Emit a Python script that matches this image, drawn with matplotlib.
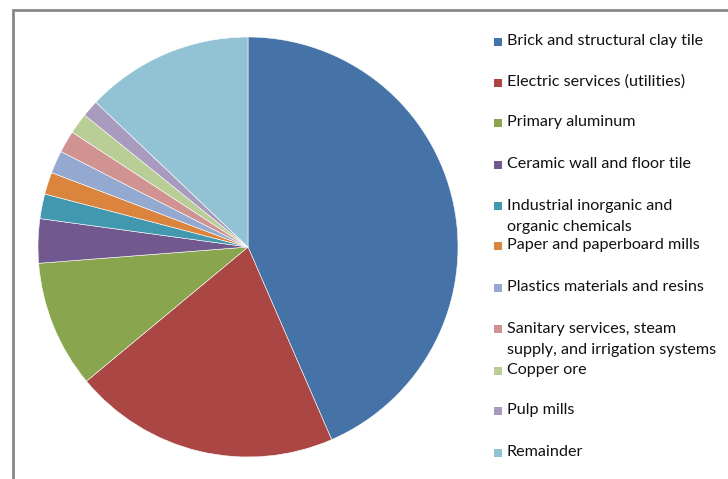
import matplotlib
matplotlib.use("Agg")
import matplotlib.pyplot as plt
from matplotlib.patches import Rectangle

# share of total, percent (clockwise from 12 o'clock)
categories = [
    "Brick and structural clay tile",
    "Electric services (utilities)",
    "Primary aluminum",
    "Ceramic wall and floor tile",
    "Industrial inorganic and\norganic chemicals",
    "Paper and paperboard mills",
    "Plastics materials and resins",
    "Sanitary services, steam\nsupply, and irrigation systems",
    "Copper ore",
    "Pulp mills",
    "Remainder",
]
shares = [43.5, 20.5, 9.8, 3.4, 1.9, 1.7, 1.75, 1.7, 1.6, 1.3, 12.9]
colors = ["#4572A7", "#AA4643", "#89A54E", "#71588F", "#4198AF", "#DB843D",
          "#93A9CF", "#D19392", "#B9CD96", "#A99BBD", "#92C3D4"]

W, H = 728, 479
fig = plt.figure(figsize=(W / 100, H / 100), dpi=100)

# chart frame (gray border, runs off the right/bottom edge)
fig.patches.append(Rectangle((13 / W, -0.1), 1.2, (H - 10) / H + 0.1,
                             transform=fig.transFigure, fill=False,
                             edgecolor="#878787", linewidth=2))

cx, cy, r = 248, 247, 210
ax = fig.add_axes([(cx - r) / W, (H - cy - r) / H, 2 * r / W, 2 * r / H])
ax.pie(shares, colors=colors, startangle=90, counterclock=False,
       wedgeprops=dict(edgecolor="white", linewidth=0.4))
ax.set_aspect("equal")
ax.set_xlim(-1.0, 1.0)
ax.set_ylim(-1.0, 1.0)

# legend, drawn by hand so the two-line entries sit like the original
ys = [41, 82, 122, 164, 205, 245, 287, 328, 370, 410, 452]
for lab, col, y in zip(categories, colors, ys):
    fig.patches.append(Rectangle((494 / W, (H - y - 4.5) / H), 8 / W, 8 / H,
                                 transform=fig.transFigure, facecolor=col,
                                 edgecolor="none"))
    if "\n" in lab:
        fig.text(507 / W, (H - y + 6) / H, lab, fontsize=11.6, family="Lato",
                 color="#111111", va="top", linespacing=1.6)
    else:
        fig.text(507 / W, (H - y) / H, lab, fontsize=11.6, family="Lato",
                 color="#111111", va="center")

fig.savefig("out.png", dpi=100)
